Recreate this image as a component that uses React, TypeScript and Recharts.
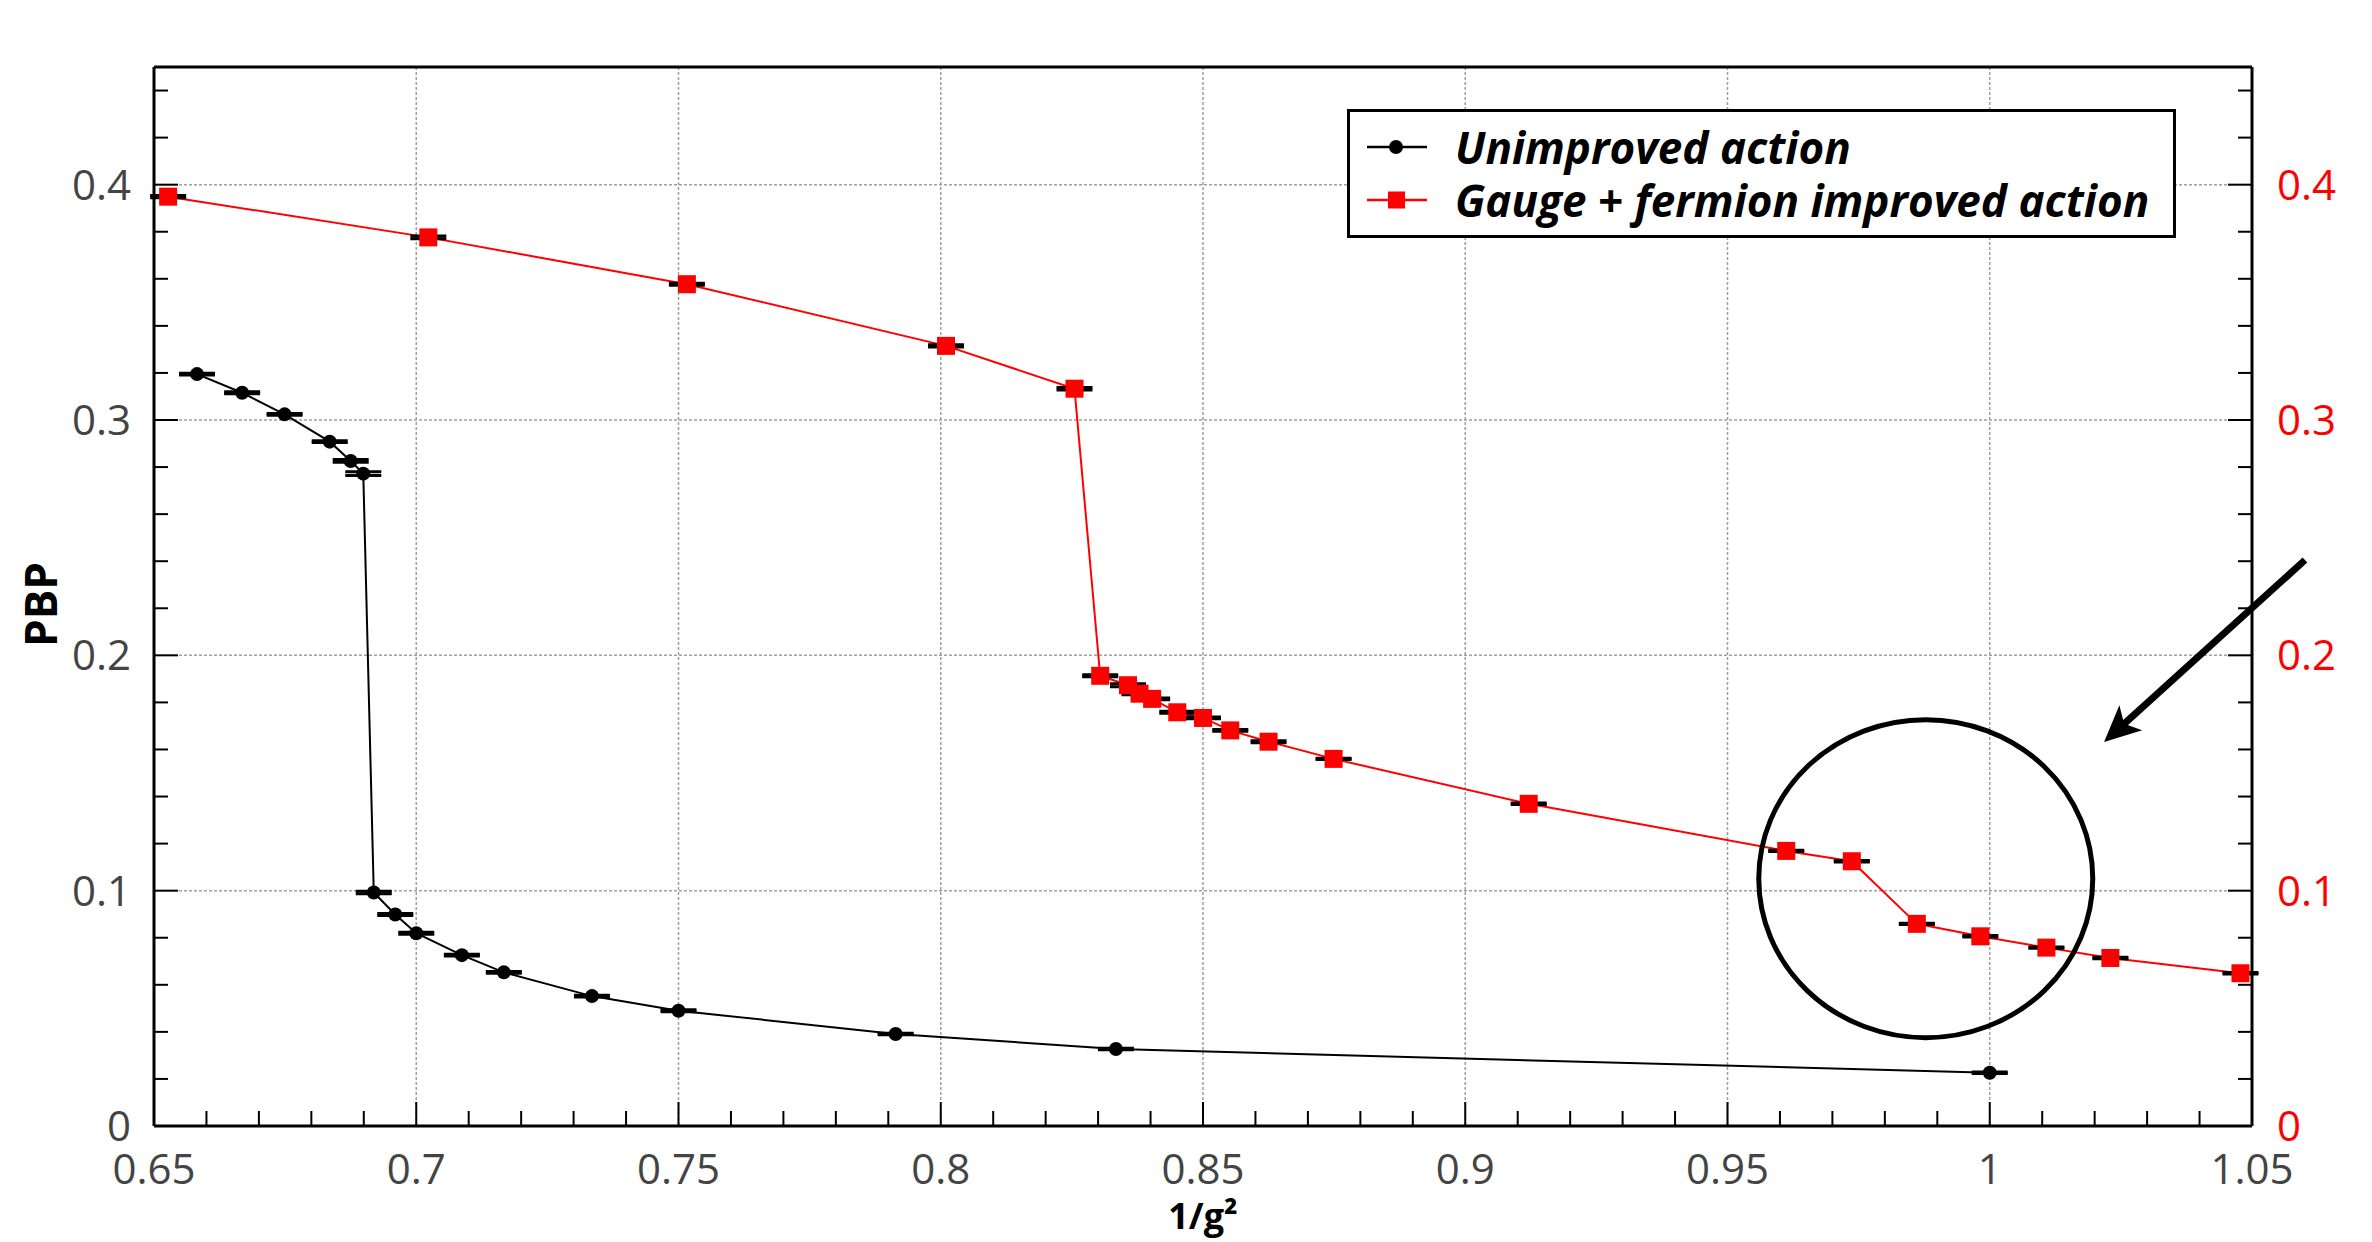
import React from "react";
import {
  ComposedChart,
  Line,
  XAxis,
  YAxis,
  CartesianGrid,
  ErrorBar,
  Legend,
  ReferenceDot,
  ReferenceLine,
} from "recharts";

const W = 2372;
const H = 1242;
const FONT = "'Open Sans', 'DejaVu Sans', sans-serif";
const RED = "#ff0000";
const GRAY = "#444444";

// Unimproved action (black circles)
const blackX = [
  0.6582, 0.6668, 0.6749, 0.6835, 0.6875, 0.6899, 0.6919, 0.696, 0.7, 0.7087,
  0.7167, 0.7335, 0.75, 0.7914, 0.8334, 1.0,
];
const blackY = [
  0.3195, 0.3116, 0.3024, 0.2908, 0.2826, 0.2772, 0.0992, 0.0899, 0.0819,
  0.0726, 0.0653, 0.0552, 0.049, 0.0391, 0.0327, 0.0226,
];
const blackErr = [
  0.0004, 0.0004, 0.0004, 0.0004, 0.0006, 0.0008, 0.0005, 0.0004, 0.0004,
  0.0004, 0.0004, 0.0004, 0.0004, 0.0003, 0.0003, 0.0003,
];

// Gauge + fermion improved action (red squares)
const redX = [
  0.6527, 0.7023, 0.7516, 0.801, 0.8255, 0.8304, 0.8357, 0.8379, 0.8403,
  0.8451, 0.85, 0.8552, 0.8625, 0.8749, 0.9121, 0.9612, 0.9737, 0.9861,
  0.9982, 1.0108, 1.023, 1.0478,
];
const redY = [
  0.3949, 0.3776, 0.3577, 0.3315, 0.3133, 0.1913, 0.1873, 0.1837, 0.1815,
  0.1758, 0.1734, 0.1681, 0.1633, 0.156, 0.1369, 0.1169, 0.1125, 0.0859,
  0.0806, 0.0758, 0.0714, 0.0649,
];
const redErr = [
  0.0005, 0.0006, 0.0004, 0.0005, 0.0005, 0.0004, 0.0006, 0.0004, 0.0004,
  0.0004, 0.0004, 0.0004, 0.0004, 0.0003, 0.0003, 0.0003, 0.0003, 0.0003,
  0.0003, 0.0003, 0.0003, 0.0003,
];

const seriesNames = ["Unimproved action", "Gauge + fermion improved action"];

// axes
const xDomain = [0.65, 1.05];
const topDomain = [0.24946, 0.33047];
const yDomain = [0, 0.45];
const xMajor = [0.65, 0.7, 0.75, 0.8, 0.85, 0.9, 0.95, 1.0, 1.05];
const topMajor = [0.25, 0.26, 0.27, 0.28, 0.29, 0.3, 0.31, 0.32, 0.33];
const yMajor = [0, 0.1, 0.2, 0.3, 0.4];
const gridX = [0.7, 0.75, 0.8, 0.85, 0.9, 0.95, 1.0];
const gridY = [0.1, 0.2, 0.3, 0.4];

// annotation: circle around the kink and an arrow pointing at it
const circleAt = { x: 0.9878, y: 0.1051 };
const arrowFrom = { x: 1.0601, y: 0.2405 };
const arrowTo = { x: 1.0218, y: 0.1632 };

const steps = (from, to, step) => {
  const out = [];
  const n = Math.round((to - from) / step);
  for (let i = 0; i <= n; i++) out.push(+(from + i * step).toFixed(4));
  return out;
};
const xTicks = steps(0.65, 1.05, 0.01);
const topTicks = steps(0.25, 0.33, 0.002);
const yTicks = steps(0, 0.44, 0.02);

const blackData = blackX.map((x, i) => ({ x, y: blackY[i], e: blackErr[i] }));
const redData = redX.map((x, i) => ({ x, y: redY[i], e: redErr[i] }));

const isMajor = (v, list) => list.some((m) => Math.abs(m - v) < 1e-6);
const fmt = (v) => String(+v.toFixed(3));

const BottomTick = ({ x, y, payload }) => {
  const major = isMajor(payload.value, xMajor);
  return (
    <g>
      <line x1={x} x2={x} y1={y} y2={y - (major ? 24 : 15)} stroke="#000" strokeWidth={2} />
      {major && (
        <text x={x} y={y + 58} textAnchor="middle" fill={GRAY} fontSize={42} fontFamily={FONT}>
          {fmt(payload.value)}
        </text>
      )}
    </g>
  );
};

const TopTick = ({ x, y, payload }) => {
  const major = isMajor(payload.value, topMajor);
  return (
    <g>
      <line x1={x} x2={x} y1={y} y2={y + (major ? 23 : 14)} stroke="#000" strokeWidth={2} />
      {major && (
        <text x={x} y={y - 22} textAnchor="middle" fill={RED} fontSize={42} fontFamily={FONT}>
          {fmt(payload.value)}
        </text>
      )}
    </g>
  );
};

const LeftTick = ({ x, y, payload }) => {
  const major = isMajor(payload.value, yMajor);
  return (
    <g>
      <line x1={x} x2={x + (major ? 24 : 14)} y1={y} y2={y} stroke="#000" strokeWidth={2} />
      {major && (
        <text x={x - 23} y={y + 15} textAnchor="end" fill={GRAY} fontSize={42} fontFamily={FONT}>
          {fmt(payload.value)}
        </text>
      )}
    </g>
  );
};

const RightTick = ({ x, y, payload }) => {
  const major = isMajor(payload.value, yMajor);
  return (
    <g>
      <line x1={x} x2={x - (major ? 24 : 14)} y1={y} y2={y} stroke="#000" strokeWidth={2} />
      {major && (
        <text x={x + 25} y={y + 15} textAnchor="start" fill={RED} fontSize={42} fontFamily={FONT}>
          {fmt(payload.value)}
        </text>
      )}
    </g>
  );
};

const BlackDot = (props) => {
  const { cx, cy, index } = props;
  if (cx == null || cy == null) return null;
  return <circle key={`b-${index}`} cx={cx} cy={cy} r={7} fill="#000" />;
};

const RedDot = (props) => {
  const { cx, cy, index } = props;
  if (cx == null || cy == null) return null;
  return <rect key={`r-${index}`} x={cx - 9} y={cy - 9} width={18} height={18} fill={RED} />;
};

const Ellipse = ({ cx, cy }) => (
  <ellipse cx={cx} cy={cy} rx={167} ry={159} fill="none" stroke="#000" strokeWidth={5} />
);

const Arrow = (props) => {
  const { x1, y1, x2, y2 } = props;
  if ([x1, y1, x2, y2].some((v) => v == null)) return null;
  const dx = x1 - x2;
  const dy = y1 - y2;
  const len = Math.hypot(dx, dy);
  const ux = dx / len;
  const uy = dy / len;
  const nx = -uy;
  const ny = ux;
  const head = 36;
  const half = 17;
  const bx = x2 + ux * head;
  const by = y2 + uy * head;
  const kx = x2 + ux * 27;
  const ky = y2 + uy * 27;
  const pts = `${x2},${y2} ${bx + nx * half},${by + ny * half} ${kx},${ky} ${bx - nx * half},${by - ny * half}`;
  return (
    <g>
      <line x1={x1} y1={y1} x2={kx} y2={ky} stroke="#000" strokeWidth={7} />
      <polygon points={pts} fill="#000" />
    </g>
  );
};

const LegendBox = () => (
  <div
    style={{
      width: 829,
      height: 129,
      boxSizing: "border-box",
      border: "3px solid #000",
      background: "#fff",
      position: "relative",
      fontFamily: FONT,
    }}
  >
    {seriesNames.map((name, i) => (
      <div
        key={name}
        style={{
          position: "absolute",
          left: 17,
          top: 35 + 53 * i - 24,
          height: 48,
          display: "flex",
          alignItems: "center",
          whiteSpace: "nowrap",
        }}
      >
        <svg width={62} height={30} style={{ display: "block" }}>
          <line x1={0} x2={60} y1={15} y2={15} stroke={i ? RED : "#000"} strokeWidth={2.5} />
          {i ? (
            <rect x={21} y={6.5} width={17} height={17} fill={RED} />
          ) : (
            <circle cx={29} cy={15} r={7} fill="#000" />
          )}
        </svg>
        <div
          style={{
            marginLeft: 26,
            fontSize: 44,
            fontWeight: 700,
            fontStyle: "italic",
            color: "#000",
            lineHeight: "48px",
            height: 48,
          }}
        >
          {name}
        </div>
      </div>
    ))}
  </div>
);

const PbpLabel = ({ viewBox }) => {
  if (!viewBox) return null;
  const cx = viewBox.x + 40;
  const cy = viewBox.y + viewBox.height / 2 + 8;
  return (
    <text
      x={cx}
      y={cy}
      transform={`rotate(-90 ${cx} ${cy})`}
      textAnchor="middle"
      dominantBaseline="central"
      fontSize={44}
      fontWeight={700}
      fontFamily={FONT}
      fill="#000"
    >
      PBP
    </text>
  );
};

const XLabel = ({ viewBox }) => {
  if (!viewBox) return null;
  return (
    <text
      x={viewBox.x + viewBox.width / 2}
      y={viewBox.y + 103}
      textAnchor="middle"
      fontSize={36}
      fontWeight={700}
      fontFamily={FONT}
      fill="#000"
    >
      1/g²
    </text>
  );
};

export default function App() {
  return (
    <div style={{ width: W, height: H, background: "#fff" }}>
      <style>{`body{margin:0;}`}</style>
      <ComposedChart width={W} height={H} margin={{ top: 0, right: 0, bottom: 0, left: 0 }}>
        <CartesianGrid
          xAxisId="bottom"
          yAxisId="left"
          verticalValues={gridX}
          horizontalValues={gridY}
          stroke="#a0a0a0"
          strokeWidth={1.5}
          strokeDasharray="3 2"
        />
        <XAxis
          xAxisId="bottom"
          dataKey="x"
          type="number"
          orientation="bottom"
          domain={xDomain}
          allowDataOverflow
          ticks={xTicks}
          interval={0}
          height={116}
          tickSize={0}
          tickMargin={0}
          tick={BottomTick}
          axisLine={{ stroke: "#000", strokeWidth: 3 }}
          label={XLabel}
        />
        <XAxis
          xAxisId="top"
          type="number"
          orientation="top"
          domain={topDomain}
          allowDataOverflow
          ticks={topTicks}
          interval={0}
          height={67}
          tickSize={0}
          tickMargin={0}
          tick={TopTick}
          axisLine={{ stroke: "#000", strokeWidth: 3 }}
        />
        <YAxis
          yAxisId="left"
          type="number"
          orientation="left"
          domain={yDomain}
          allowDataOverflow
          ticks={yTicks}
          interval={0}
          width={154}
          tickSize={0}
          tickMargin={0}
          tick={LeftTick}
          axisLine={{ stroke: "#000", strokeWidth: 3 }}
          label={PbpLabel}
        />
        <YAxis
          yAxisId="right"
          type="number"
          orientation="right"
          domain={yDomain}
          allowDataOverflow
          ticks={yTicks}
          interval={0}
          width={120}
          tickSize={0}
          tickMargin={0}
          tick={RightTick}
          axisLine={{ stroke: "#000", strokeWidth: 3 }}
        />
        <Line
          xAxisId="bottom"
          yAxisId="left"
          data={blackData}
          dataKey="y"
          name={seriesNames[0]}
          stroke="#000"
          strokeWidth={2}
          dot={BlackDot}
          activeDot={false}
          isAnimationActive={false}
        >
          <ErrorBar dataKey="e" direction="y" width={18} stroke="#000" strokeWidth={3} isAnimationActive={false} />
        </Line>
        <Line
          xAxisId="bottom"
          yAxisId="left"
          data={redData}
          dataKey="y"
          name={seriesNames[1]}
          stroke={RED}
          strokeWidth={2}
          dot={RedDot}
          activeDot={false}
          isAnimationActive={false}
        />
        <Line
          xAxisId="bottom"
          yAxisId="left"
          data={redData}
          dataKey="y"
          stroke="none"
          dot={false}
          activeDot={false}
          legendType="none"
          isAnimationActive={false}
        >
          <ErrorBar dataKey="e" direction="y" width={18} stroke="#000" strokeWidth={3} isAnimationActive={false} />
        </Line>
        <ReferenceDot
          xAxisId="bottom"
          yAxisId="left"
          x={circleAt.x}
          y={circleAt.y}
          ifOverflow="visible"
          shape={Ellipse}
        />
        <ReferenceLine
          xAxisId="bottom"
          yAxisId="left"
          segment={[arrowFrom, arrowTo]}
          ifOverflow="visible"
          shape={Arrow}
        />
        <Legend
          layout="horizontal"
          verticalAlign="middle"
          align="center"
          content={LegendBox}
          wrapperStyle={{ left: 1347, top: 109, width: 829, height: 129 }}
        />
      </ComposedChart>
    </div>
  );
}
